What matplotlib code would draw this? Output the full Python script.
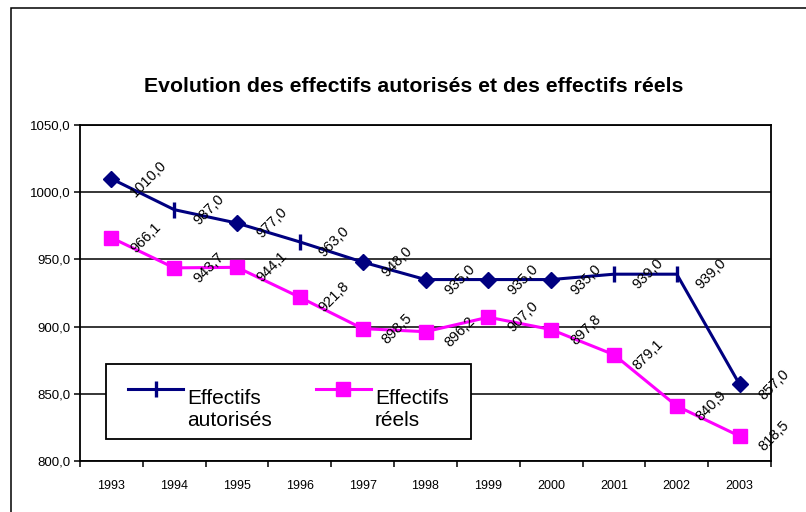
import numpy as np
import matplotlib
matplotlib.use("Agg")
import matplotlib.pyplot as plt
from matplotlib.lines import Line2D
from matplotlib.patches import Rectangle
from matplotlib.path import Path
from matplotlib.legend_handler import HandlerLine2D

plt.rcParams['font.family'] = ['Liberation Sans', 'DejaVu Sans']

years = ['1993', '1994', '1995', '1996', '1997', '1998', '1999', '2000', '2001', '2002', '2003']
autorises = [1010.0, 987.0, 977.0, 963.0, 948.0, 935.0, 935.0, 935.0, 939.0, 939.0, 857.0]
reels = [966.1, 943.7, 944.1, 921.8, 898.5, 896.2, 907.0, 897.8, 879.1, 840.9, 818.5]
yticks = [800, 850, 900, 950, 1000, 1050]
title = "Evolution des effectifs autorisés et des effectifs réels"
labels = ["Effectifs\nautorisés", "Effectifs\nréels"]

NAVY = '#000080'
MAGENTA = '#FF00FF'

W, H = 806, 512
fig = plt.figure(figsize=(W / 100, H / 100), dpi=100)
fig.patch.set_facecolor('white')

ax = fig.add_axes([80 / W, (H - 461) / H, 691 / W, 336 / H])
x = np.arange(len(years))

diamond_idx = [0, 2, 4, 5, 6, 7, 10]
tick_idx = [1, 3, 8, 9]

ax.plot(x, autorises, color=NAVY, lw=2.2, marker='D', ms=8.5, mfc=NAVY, mec=NAVY,
        markevery=diamond_idx, zorder=4, clip_on=False)
ax.plot(x, autorises, color=NAVY, lw=0, marker='|', ms=11, mew=2.4,
        markevery=tick_idx, zorder=4, clip_on=False)
ax.plot(x, reels, color=MAGENTA, lw=2.2, marker='s', ms=10.5, mfc=MAGENTA, mec=MAGENTA,
        zorder=3, clip_on=False)

def fmt(v):
    return f"{v:.1f}".replace('.', ',')

for xi, v in zip(x, autorises):
    ax.annotate(fmt(v), (xi, v), xytext=(12, 0), textcoords='offset points',
                rotation=45, ha='left', va='center', fontsize=10.5, zorder=5)
for xi, v in zip(x, reels):
    ax.annotate(fmt(v), (xi, v), xytext=(12, 0), textcoords='offset points',
                rotation=45, ha='left', va='center', fontsize=10.5, zorder=5)

ax.set_xlim(-0.5, len(years) - 0.5)
ax.set_ylim(800, 1050)
ax.set_yticks(yticks)
ax.set_yticklabels([fmt(v) for v in yticks])
ax.yaxis.grid(True, color='black', lw=1.1)
ax.set_axisbelow(True)

ax.set_xticks(x)
ax.set_xticklabels(years)
ax.set_xticks(np.arange(-0.5, len(years), 1.0), minor=True)
ax.tick_params(axis='x', which='major', length=0, pad=14, labelsize=9)
ax.tick_params(axis='x', which='minor', length=4, width=1.1, direction='out')
ax.tick_params(axis='y', length=4, width=1.1, direction='out', pad=3, labelsize=9.5)

for s in ax.spines.values():
    s.set_linewidth(1.3)
    s.set_color('black')


class UpHandler(HandlerLine2D):
    def __init__(self, shift, **kw):
        super().__init__(**kw)
        self.shift = shift

    def create_artists(self, legend, orig_handle, xdescent, ydescent, width, height, fontsize, trans):
        arts = super().create_artists(legend, orig_handle, xdescent, ydescent, width, height, fontsize, trans)
        for a in arts:
            a.set_ydata(np.asarray(a.get_ydata(), dtype=float) + self.shift)
        return arts


EXTRA = 5.5  # extra horizontal padding of the legend frame, pixels


def wide_box(x0, y0, width, height, mutation_size):
    xa, xb = x0 - EXTRA, x0 + width + EXTRA
    return Path([(xa, y0), (xb, y0), (xb, y0 + height), (xa, y0 + height), (xa, y0)],
                closed=True)


h1 = Line2D([], [], color=NAVY, lw=2.2, marker='|', ms=11, mew=2.4)
h2 = Line2D([], [], color=MAGENTA, lw=2.2, marker='s', ms=10, mfc=MAGENTA, mec=MAGENTA)
leg = ax.legend([h1, h2], labels, loc='lower left',
                bbox_to_anchor=((106 + EXTRA - 80) / 691, 22 / 336), borderaxespad=0,
                ncol=2, fontsize=15, frameon=True, fancybox=False, shadow=False,
                framealpha=1, edgecolor='black', handlelength=2.64, handletextpad=0.2,
                columnspacing=2.1, borderpad=0.8,
                handler_map={h1: UpHandler(9, numpoints=1), h2: UpHandler(9, numpoints=1)})
for t in leg.get_texts():
    t.set_linespacing(1.25)
    t.set_y(-8)
leg.legendPatch.set_boxstyle(wide_box)
leg.get_frame().set_linewidth(1.3)
leg.set_zorder(6)

fig.text(413.5 / W, 1 - 86 / H, title, ha='center', va='center', fontsize=15.3, fontweight='bold')

fig.patches.append(Rectangle((10.5 / W, -0.2), 2.0, 1.2 - 7.5 / H, transform=fig.transFigure,
                             fill=False, ec='black', lw=1.1))

fig.savefig('out.png', dpi=100)
